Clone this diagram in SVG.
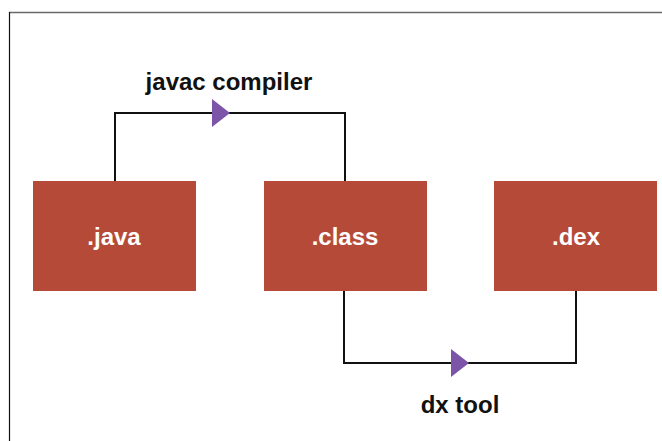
<svg xmlns="http://www.w3.org/2000/svg" width="662" height="441" viewBox="0 0 662 441">
<style>
.box{fill:#b54a38}
.lbl{font-family:"Liberation Sans",Arial,sans-serif;font-weight:bold;font-size:24px;text-anchor:middle}
.w{fill:#ffffff}
.k{fill:#111111}
.wire{fill:none;stroke:#111111;stroke-width:2}
.tri{fill:#7d55a8}
</style>
<rect x="0" y="0" width="662" height="441" fill="#ffffff"/>
<line x1="9" y1="12.5" x2="662" y2="12.5" stroke="#6a6a6a" stroke-width="1.5"/>
<line x1="9.5" y1="12" x2="9.5" y2="441" stroke="#111111" stroke-width="1.2"/>
<g id="connectors">
<path class="wire" d="M115 181 V113 H345 V181"/>
<polygon class="tri" points="212,99 230,113 212,127"/>
<path class="wire" d="M344 291 V363 H576 V291"/>
<polygon class="tri" points="451,349 469,363 451,377"/>
<text class="lbl k" x="229" y="90">javac compiler</text>
<text class="lbl k" x="460" y="413">dx tool</text>
</g>
<g id="java">
<rect class="box" x="33" y="181" width="163" height="110"/>
<text class="lbl w" x="114" y="245">.java</text>
</g>
<g id="class">
<rect class="box" x="264" y="181" width="163" height="110"/>
<text class="lbl w" x="345" y="245">.class</text>
</g>
<g id="dex">
<rect class="box" x="494" y="181" width="163" height="110"/>
<text class="lbl w" x="576" y="245">.dex</text>
</g>
</svg>
